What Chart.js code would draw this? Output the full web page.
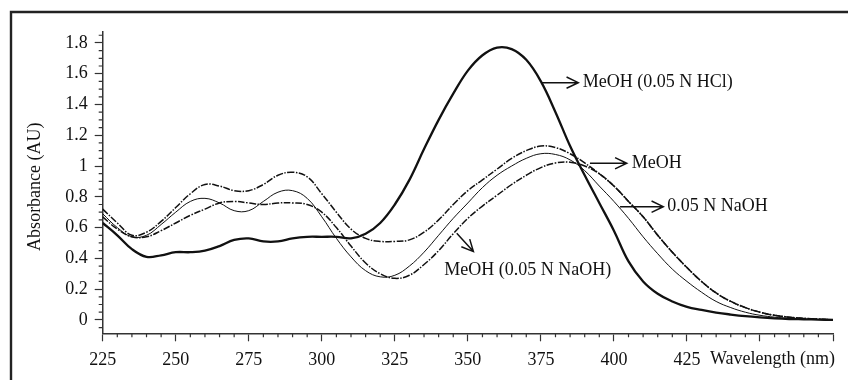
<!DOCTYPE html>
<html lang="en">
<head>
  <meta charset="UTF-8">
  <title>Absorbance spectra</title>
  <style>
    html, body { margin: 0; padding: 0; background: #fff; }
    #wrap { width: 848px; height: 380px; position: relative; overflow: hidden; }
  </style>
</head>
<body>
  <div id="wrap"><canvas id="spectra" width="848" height="380"></canvas></div>

  <script src="https://cdn.jsdelivr.net/npm/chart.js"></script>
  <script>
    // wavelengths (nm), sampled every 5 nm
    const wavelengths = [225, 230, 235, 240, 245, 250, 255, 260, 265, 270, 275, 280, 285, 290, 295, 300,
      305, 310, 315, 320, 325, 330, 335, 340, 345, 350, 355, 360, 365, 370, 375, 380, 385, 390, 395, 400,
      405, 410, 415, 420, 425, 430, 435, 440, 445, 450, 455, 460, 465, 470, 475];

    // absorbance
    const meohHcl = [0.63, 0.55, 0.46, 0.41, 0.42, 0.44, 0.44, 0.45, 0.48, 0.52, 0.53, 0.51, 0.51, 0.53, 0.54, 0.54,
      0.54, 0.53, 0.56, 0.63, 0.75, 0.91, 1.11, 1.30, 1.47, 1.62, 1.72, 1.77, 1.76, 1.69, 1.55, 1.35, 1.13, 0.94, 0.76, 0.58,
      0.38, 0.25, 0.17, 0.12, 0.085, 0.065, 0.048, 0.035, 0.024, 0.016, 0.01, 0.006, 0.004, 0.002, 0.0];
    const meoh = [0.72, 0.63, 0.55, 0.57, 0.64, 0.73, 0.82, 0.88, 0.87, 0.84, 0.84, 0.88, 0.94, 0.96, 0.93, 0.82,
      0.70, 0.59, 0.53, 0.51, 0.51, 0.52, 0.57, 0.65, 0.75, 0.84, 0.91, 0.98, 1.05, 1.10, 1.13, 1.12, 1.08, 1.02, 0.95, 0.87,
      0.77, 0.67, 0.55, 0.44, 0.34, 0.25, 0.175, 0.12, 0.08, 0.05, 0.03, 0.018, 0.01, 0.005, 0.0];
    const naoh = [0.69, 0.60, 0.54, 0.55, 0.62, 0.70, 0.77, 0.79, 0.76, 0.71, 0.71, 0.77, 0.83, 0.84, 0.79, 0.67,
      0.53, 0.41, 0.32, 0.28, 0.29, 0.35, 0.44, 0.55, 0.66, 0.76, 0.86, 0.94, 1.00, 1.05, 1.08, 1.075, 1.04, 0.97, 0.87, 0.77,
      0.66, 0.54, 0.43, 0.33, 0.25, 0.18, 0.12, 0.08, 0.05, 0.03, 0.018, 0.01, 0.005, 0.002, 0.0];
    const meohNaoh = [0.67, 0.59, 0.54, 0.54, 0.58, 0.63, 0.68, 0.72, 0.76, 0.77, 0.76, 0.75, 0.76, 0.76, 0.75, 0.70,
      0.60, 0.48, 0.37, 0.30, 0.27, 0.29, 0.36, 0.45, 0.56, 0.66, 0.74, 0.81, 0.88, 0.94, 0.99, 1.02, 1.025, 1.00, 0.95, 0.87,
      0.77, 0.67, 0.55, 0.44, 0.34, 0.25, 0.175, 0.12, 0.08, 0.05, 0.03, 0.018, 0.01, 0.005, 0.0];

    const xTicks = [225, 250, 275, 300, 325, 350, 375, 400, 425, 450, 475];
    const xLabelled = [225, 250, 275, 300, 325, 350, 375, 400, 425];
    const yTicks = [0, 0.2, 0.4, 0.6, 0.8, 1, 1.2, 1.4, 1.6, 1.8];

    // callouts: text, arrow start, arrow end, text start (data units)
    const calloutText = ['MeOH (0.05 N HCl)', 'MeOH', '0.05 N NaOH', 'MeOH (0.05 N NaOH)'];
    const calloutFrom = [[375.3, 1.542], [391.8, 1.018], [402.1, 0.736], [346.2, 0.563]];
    const calloutTo = [[387.8, 1.542], [404.4, 1.018], [416.9, 0.736], [351.9, 0.444]];
    const calloutAt = [[389.3, 1.542], [406.1, 1.018], [418.3, 0.736], [341.9, 0.325]];

    const FONT = '18px "Liberation Serif", "Times New Roman", serif';
    const INK = '#111';

    function series(values) {
      return wavelengths.map((w, i) => ({ x: w, y: values[i] }));
    }

    function arrow(ctx, x1, y1, x2, y2) {
      const a = Math.atan2(y2 - y1, x2 - x1);
      const h = 13, s = 0.45;
      ctx.beginPath();
      ctx.moveTo(x1, y1);
      ctx.lineTo(x2, y2);
      ctx.moveTo(x2 - h * Math.cos(a - s), y2 - h * Math.sin(a - s));
      ctx.lineTo(x2, y2);
      ctx.lineTo(x2 - h * Math.cos(a + s), y2 - h * Math.sin(a + s));
      ctx.stroke();
    }

    const extras = {
      id: 'extras',
      beforeDraw(chart) {
        const ctx = chart.ctx;
        ctx.save();
        ctx.strokeStyle = '#222';
        ctx.lineWidth = 2.4;
        ctx.beginPath();
        ctx.moveTo(11, 400);
        ctx.lineTo(11, 12);
        ctx.lineTo(860, 12);
        ctx.stroke();
        ctx.restore();
      },
      afterDraw(chart) {
        const ctx = chart.ctx;
        const xs = chart.scales.x, ys = chart.scales.y;
        const area = chart.chartArea;
        ctx.save();
        ctx.strokeStyle = '#333';
        ctx.lineWidth = 1.2;
        ctx.beginPath();
        for (let w = 230; w < 475; w += 5) {
          if (w % 25 === 0) continue;
          const px = xs.getPixelForValue(w);
          ctx.moveTo(px, area.bottom);
          ctx.lineTo(px, area.bottom + 4);
        }
        for (let k = -1; k <= 37; k++) {
          if (k % 4 === 0) continue;
          const py = ys.getPixelForValue(k * 0.05);
          ctx.moveTo(area.left, py);
          ctx.lineTo(area.left - 4, py);
        }
        ctx.stroke();

        ctx.fillStyle = INK;
        ctx.font = FONT;
        ctx.textBaseline = 'middle';
        // x axis title sits on the tick label row
        ctx.textAlign = 'right';
        ctx.fillText('Wavelength (nm)', area.right + 2, xs.top + 8 + 8 + 10);
        // y axis title
        ctx.save();
        ctx.translate(35, (area.top + area.bottom) / 2 + 4);
        ctx.rotate(-Math.PI / 2);
        ctx.textAlign = 'center';
        ctx.fillText('Absorbance (AU)', 0, 0);
        ctx.restore();

        ctx.strokeStyle = INK;
        ctx.lineWidth = 1.5;
        ctx.textAlign = 'left';
        calloutText.forEach((t, i) => {
          arrow(ctx,
            xs.getPixelForValue(calloutFrom[i][0]), ys.getPixelForValue(calloutFrom[i][1]),
            xs.getPixelForValue(calloutTo[i][0]), ys.getPixelForValue(calloutTo[i][1]));
          ctx.fillText(t, xs.getPixelForValue(calloutAt[i][0]), ys.getPixelForValue(calloutAt[i][1]));
        });
        ctx.restore();
      }
    };

    new Chart(document.getElementById('spectra'), {
      type: 'line',
      data: {
        datasets: [
          { label: 'MeOH (0.05 N HCl)', data: series(meohHcl), borderColor: INK, borderWidth: 2.3 },
          { label: 'MeOH', data: series(meoh), borderColor: INK, borderWidth: 1.5, borderDash: [7, 1.5, 1.5, 1.5] },
          { label: '0.05 N NaOH', data: series(naoh), borderColor: INK, borderWidth: 1 },
          { label: 'MeOH (0.05 N NaOH)', data: series(meohNaoh), borderColor: INK, borderWidth: 1.5, borderDash: [7, 1.5, 1.5, 1.5] }
        ]
      },
      options: {
        responsive: false,
        animation: false,
        events: [],
        layout: { padding: { top: 32, right: 15, left: 0, bottom: 0 } },
        elements: {
          point: { radius: 0 },
          line: { tension: 0.4, fill: false }
        },
        plugins: { legend: { display: false }, tooltip: { enabled: false } },
        scales: {
          x: {
            type: 'linear',
            min: 225,
            max: 475,
            afterBuildTicks: s => { s.ticks = xTicks.map(v => ({ value: v })); },
            afterFit: s => { s.height = 46.7; },
            grid: { drawOnChartArea: false, tickLength: 8, tickColor: '#333', tickWidth: 1.2 },
            border: { color: '#333', width: 1.5 },
            ticks: {
              color: INK,
              font: { family: '"Liberation Serif", "Times New Roman", serif', size: 18 },
              padding: 8,
              maxRotation: 0,
              autoSkip: false,
              callback: v => xLabelled.includes(v) ? String(v) : ''
            }
          },
          y: {
            min: -0.087,
            max: 1.871,
            afterBuildTicks: s => { s.ticks = yTicks.map(v => ({ value: v })); },
            afterFit: s => { s.width = 102.7; },
            grid: { drawOnChartArea: false, tickLength: 8, tickColor: '#333', tickWidth: 1.2 },
            border: { color: '#333', width: 1.5 },
            ticks: {
              color: INK,
              font: { family: '"Liberation Serif", "Times New Roman", serif', size: 18 },
              padding: 7,
              autoSkip: false,
              callback: v => String(v)
            }
          }
        }
      },
      plugins: [extras]
    });
  </script>
</body>
</html>
